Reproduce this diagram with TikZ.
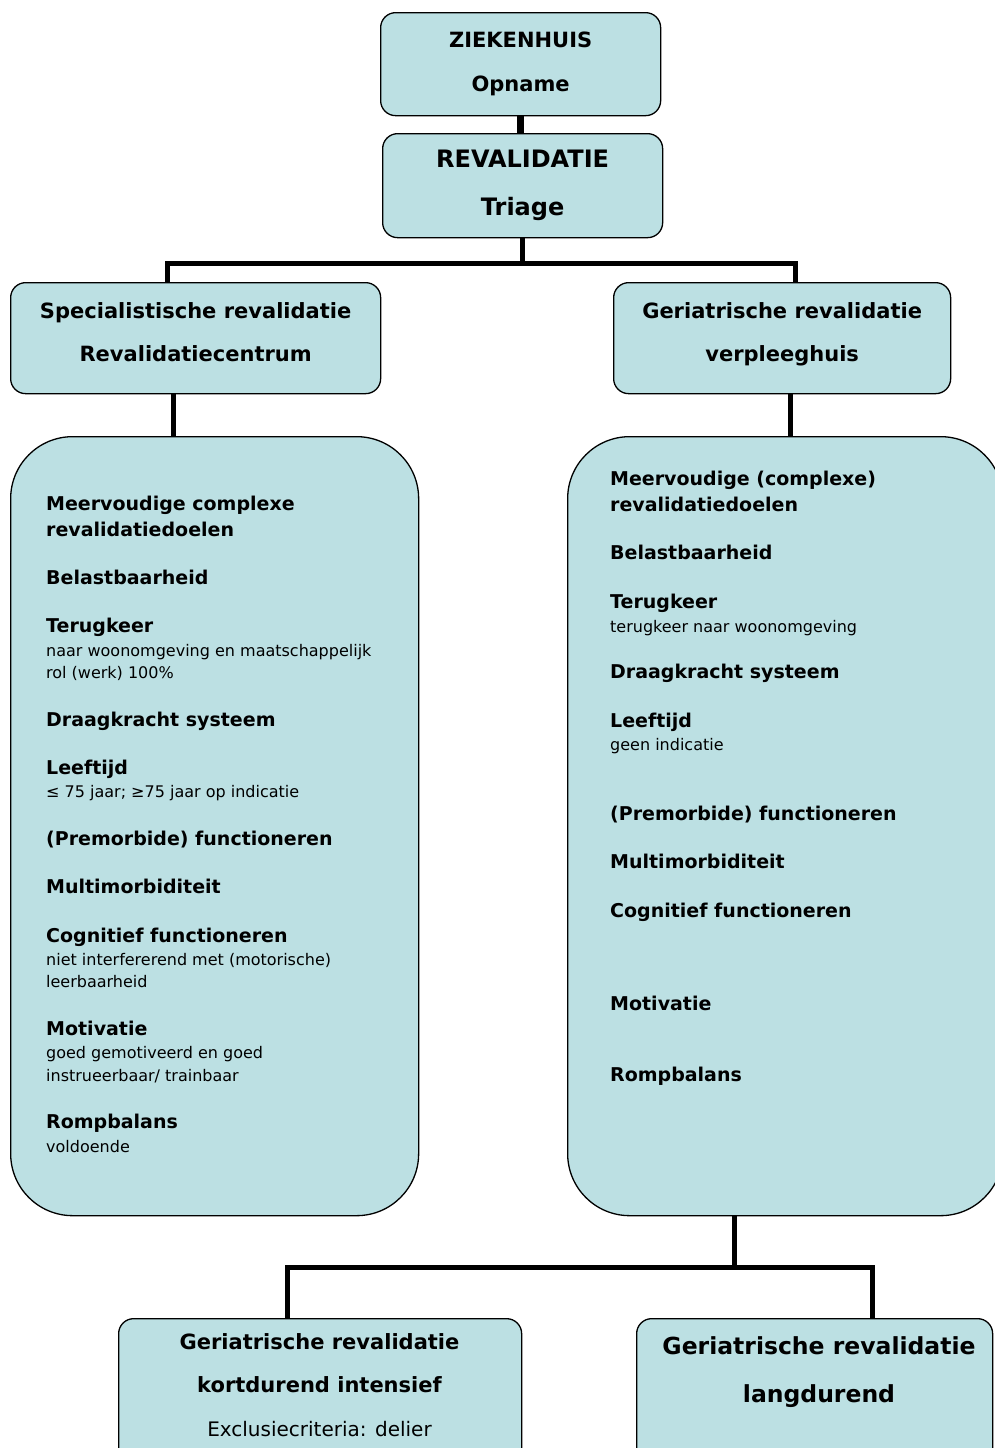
\documentclass[tikz,border=0pt]{standalone}
\usepackage{fontspec}
\setmainfont{DejaVu Sans}
\definecolor{boxblue}{HTML}{BCE0E3}
\tikzset{
  box/.style={draw, line width=1.3pt, fill=boxblue, rounded corners=15pt,
    anchor=north west, inner sep=0pt, align=center},
  bigbox/.style={box, rounded corners=62pt},
  conn/.style={line width=5pt},
  crithead/.style={anchor=base west, inner sep=0pt, font=\fontsize{19}{26}\selectfont\bfseries},
  critnote/.style={anchor=base west, inner sep=0pt, font=\fontsize{16}{22}\selectfont},
}

\begin{document}
\begin{tikzpicture}[x=1pt, y=-1pt]
  \useasboundingbox (0,0) rectangle (995,1448);
  \clip (0,0) rectangle (995,1448);

  % ziekenhuis en triage
  \node[box, minimum width=280pt, minimum height=103pt, font=\fontsize{21}{44}\selectfont\bfseries]
    (zkh) at (380,12) {ZIEKENHUIS\\Opname};
  \node[box, minimum width=280pt, minimum height=104pt, font=\fontsize{24}{48}\selectfont\bfseries]
    (rev) at (382,133) {REVALIDATIE\\Triage};

  % twee soorten revalidatie
  \node[box, minimum width=370pt, minimum height=111pt, text depth=13pt,
    font=\fontsize{21}{43}\selectfont\bfseries]
    (spec) at (10,282) {Specialistische revalidatie\\Revalidatiecentrum};
  \node[box, minimum width=337pt, minimum height=111pt, text depth=13pt,
    font=\fontsize{21}{43}\selectfont\bfseries]
    (ger) at (613,282) {Geriatrische revalidatie\\verpleeghuis};

  % criteria
  \node[bigbox, minimum width=408pt, minimum height=779pt] (critL) at (10,436) {};
  \node[bigbox, minimum width=435pt, minimum height=779pt] (critR) at (567,436) {};

  \foreach \yy/\txt [count=\i] in {503/{Meervoudige complexe}, 529/revalidatiedoelen,
      577/Belastbaarheid, 625/Terugkeer, 719/{Draagkracht systeem}, 767/Leeftijd,
      838/{(Premorbide) functioneren}, 886/Multimorbiditeit, 935/{Cognitief functioneren},
      1028/Motivatie, 1121/Rompbalans}
    \node[crithead] (lhead\i) at (46,\yy+7) {\txt};
  \foreach \yy/\txt [count=\i] in {650/{naar woonomgeving en maatschappelijk},
      672/{rol (werk) 100\%}, 791/{≤ 75 jaar; ≥75 jaar op indicatie},
      959/{niet interfererend met (motorische)}, 981/leerbaarheid,
      1052/{goed gemotiveerd en goed}, 1075/{instrueerbaar/ trainbaar}, 1146/voldoende}
    \node[critnote] (lnote\i) at (46,\yy+6) {\txt};

  \foreach \yy/\txt [count=\i] in {478/{Meervoudige (complexe)}, 504/revalidatiedoelen,
      552/Belastbaarheid, 601/Terugkeer, 671/{Draagkracht systeem}, 720/Leeftijd,
      813/{(Premorbide) functioneren}, 861/Multimorbiditeit, 910/{Cognitief functioneren},
      1003/Motivatie, 1074/Rompbalans}
    \node[crithead] (rhead\i) at (610,\yy+7) {\txt};
  \foreach \yy/\txt [count=\i] in {626/{terugkeer naar woonomgeving}, 744/{geen indicatie}}
    \node[critnote] (rnote\i) at (610,\yy+6) {\txt};

  % geriatrische vervolg
  \node[box, minimum width=403pt, minimum height=150pt] (kort) at (118,1318) {};
  \node[font=\fontsize{21}{43.5}\selectfont\bfseries, align=center, inner sep=0pt]
    (kortlbl) at (319.5,1385) {Geriatrische revalidatie\\kortdurend intensief\\
    \mdseries\fontsize{20}{43.5}\selectfont Exclusiecriteria: delier};
  \node[box, minimum width=356pt, minimum height=150pt] (lang) at (636,1318) {};
  \node[font=\fontsize{23.5}{48}\selectfont\bfseries, align=center, inner sep=0pt]
    (langlbl) at (819,1372) {Geriatrische revalidatie\\langdurend};

  % lijnen
  \draw[conn, line width=7pt] (zkh.south) -- (zkh.south |- rev.north);
  \draw[conn] (rev.south) -- ++(0,25) coordinate (fork1);
  \draw[conn] ([xshift=-28pt]spec.north) |- (fork1) -| ([xshift=13.5pt]ger.north);
  \draw[conn] ([xshift=-22pt]spec.south) -- ([xshift=-41pt]critL.north);
  \draw[conn] ([xshift=8.5pt]ger.south) -- ([xshift=5.5pt]critR.north);
  \draw[conn] ([xshift=-50.5pt]critR.south) -- ++(0,51) coordinate (fork2);
  \draw[conn] ([xshift=-32.5pt]kort.north) |- (fork2) -| ([xshift=58pt]lang.north);
\end{tikzpicture}
\end{document}
